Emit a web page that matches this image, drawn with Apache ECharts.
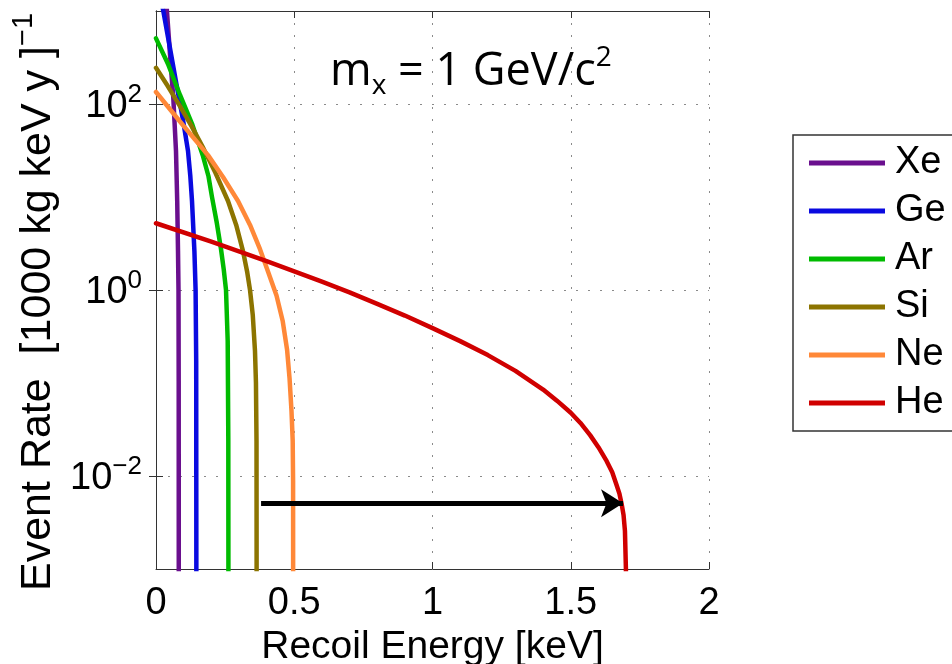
<!DOCTYPE html>
<html><head><meta charset="utf-8">
<script src="https://cdn.jsdelivr.net/npm/echarts@6/dist/echarts.min.js"></script>
<style>html,body{margin:0;padding:0;background:#fff;}#c{width:952px;height:664px;}</style>
</head><body><div id="c"></div>
<script>
// ---- data ----
const elements = ['Xe', 'Ge', 'Ar', 'Si', 'Ne', 'He'];
const colors = ['#6a0f8e', '#0a0ae0', '#00bb00', '#8c7400', '#ff8838', '#d00000'];
// [recoil energy keV, event rate]
const xe = [[0.030, 2500], [0.0398, 975], [0.0542, 244], [0.0626, 116], [0.0723, 31.3], [0.0767, 9.06], [0.0796, 2.62], [0.0814, 1.0], [0.0821, 0.105], [0.0825, 0.0001]];
const ge = [[0, 2500], [0.0271, 975], [0.0738, 164], [0.0984, 65.6], [0.1157, 31.3], [0.1241, 16.8], [0.1302, 9.06], [0.1389, 2.62], [0.1432, 1.0], [0.1454, 0.173], [0.1462, 0.0001]];
const ar = [[0, 508], [0.0434, 269], [0.0868, 125], [0.130, 61.7], [0.170, 27.5], [0.190, 16.6], [0.2025, 10.0], [0.220, 5.25], [0.2351, 2.75], [0.2450, 1.66], [0.2532, 1.0], [0.2593, 0.283], [0.2615, 0.024], [0.2622, 0.0001]];
const si = [[0, 245], [0.043, 155], [0.086, 95.5], [0.129, 57.5], [0.172, 33.1], [0.215, 18.2], [0.2604, 9.06], [0.290, 5.01], [0.3146, 2.62], [0.330, 1.55], [0.340, 1.0], [0.350, 0.537], [0.358, 0.221], [0.3615, 0.1], [0.3635, 0.0238], [0.3642, 0.0001]];
const ne = [[0, 134.6], [0.094, 61], [0.188, 28.2], [0.2423, 16.4], [0.2966, 9.06], [0.340, 5.01], [0.3761, 2.75], [0.405, 1.585], [0.4358, 0.871], [0.458, 0.468], [0.474, 0.229], [0.483, 0.112], [0.490, 0.0501], [0.4944, 0.024], [0.4958, 0.0089], [0.4962, 0.0001]];
const he = [[0, 5.22], [0.2, 3.31], [0.4, 2.04], [0.6, 1.23], [0.7, 0.944], [0.8, 0.708], [0.9, 0.531], [1.0, 0.389], [1.1, 0.282], [1.2, 0.1995], [1.3, 0.135], [1.4, 0.0851], [1.45, 0.0646], [1.5, 0.0479], [1.535, 0.0372], [1.57, 0.0275], [1.60, 0.0204], [1.63, 0.01445], [1.65, 0.01096], [1.666, 0.00794], [1.676, 0.00646], [1.684, 0.00501], [1.691, 0.0038], [1.696, 0.00257], [1.6995, 0.001], [1.700, 0.0001]];
const seriesData = [xe, ge, ar, si, ne, he];
const yTicks = [0.01, 1, 100];
const arrowStart = [0.38, 0.0051];
const arrowEnd = [1.689, 0.0051];

const FONT = 'Liberation Sans';
const gridLine = { show: true, lineStyle: { type: [2, 10], color: '#8a8a8a', width: 1 } };
const axLine = { show: true, lineStyle: { color: '#333', width: 1 } };

function expLabel(v) {
  const e = Math.round(Math.log10(v));
  const s = e < 0 ? '\u2212' + Math.abs(e) : String(e);
  return '{b|10}{s|' + s + '}';
}

const chart = echarts.init(document.getElementById('c'), null, { renderer: 'canvas' });
const series = elements.map((name, i) => {
  const s = {
    name, type: 'line', data: seriesData[i], showSymbol: false, symbol: 'none',
    clip: true, smooth: false, animation: false,
    lineStyle: { color: colors[i], width: 4.5, join: 'round', cap: 'round' }, itemStyle: { color: colors[i] },
    emphasis: { disabled: true }
  };
  if (name === 'He') {
    s.markLine = {
      silent: true, animation: false, symbol: ['none', 'arrow'], symbolSize: [21, 22],
      label: { show: false }, emphasis: { disabled: true },
      lineStyle: { color: '#000', width: 5, type: 'solid' },
      data: [[{ coord: arrowStart }, { coord: arrowEnd }]]
    };
  }
  return s;
});

chart.setOption({
  animation: false,
  backgroundColor: '#fff',
  grid: { left: 156, top: 11, width: 553, height: 558, containLabel: false, outerBoundsMode: 'none' },
  xAxis: [
    { type: 'value', min: 0, max: 2, interval: 0.5, position: 'bottom',
      axisLine: axLine, axisTick: { show: true, inside: true, length: 7, lineStyle: { color: '#333' } },
      axisLabel: { fontSize: 38, color: '#000', margin: 16, fontFamily: FONT },
      splitLine: gridLine,
      name: 'Recoil Energy [keV]', nameLocation: 'middle', nameGap: 49,
      nameTextStyle: { fontSize: 39, color: '#000', fontFamily: FONT } },
    { type: 'value', min: 0, max: 2, interval: 0.5, position: 'top',
      axisLine: axLine, axisTick: { show: true, inside: true, length: 7, lineStyle: { color: '#333' } },
      axisLabel: { show: false }, splitLine: { show: false } }
  ],
  yAxis: [
    { type: 'log', logBase: 10, min: 0.001, max: 1000, position: 'left',
      axisLine: axLine,
      axisTick: { show: true, inside: true, length: 7, customValues: yTicks, lineStyle: { color: '#333' } },
      axisLabel: { customValues: yTicks, formatter: expLabel, margin: 14, color: '#000',
        rich: { b: { fontSize: 38, fontFamily: FONT, lineHeight: 44, verticalAlign: 'bottom', color: '#000' },
                s: { fontSize: 26, fontFamily: FONT, lineHeight: 26, verticalAlign: 'top', color: '#000' } } },
      splitLine: gridLine,
      name: '{n|Event Rate  [1000 kg keV y ]}{s|\u22121}', nameLocation: 'middle', nameGap: 71, nameRotate: 90,
      nameTextStyle: { color: '#000', padding: [0, 24, 0, 0],
        rich: { n: { fontSize: 43, fontFamily: FONT, lineHeight: 50, verticalAlign: 'bottom', color: '#000' },
                s: { fontSize: 29, fontFamily: FONT, lineHeight: 29, verticalAlign: 'top', color: '#000' } } } },
    { type: 'log', logBase: 10, min: 0.001, max: 1000, position: 'right',
      axisLine: axLine,
      axisTick: { show: true, inside: true, length: 7, customValues: yTicks, lineStyle: { color: '#333' } },
      axisLabel: { show: false }, splitLine: { show: false } }
  ],
  legend: {
    data: elements, orient: 'vertical', left: 793, top: 135,
    padding: [8, 90, 8, 16], itemWidth: 76, itemHeight: 5, itemGap: 8, icon: 'rect',
    borderColor: '#333', borderWidth: 1.5, backgroundColor: '#fff',
    textStyle: { fontSize: 38, fontFamily: FONT, color: '#000', lineHeight: 40, padding: [0, 0, 0, 5] },
    selectedMode: false
  },
  graphic: [
    { type: 'text', left: 330, top: 44, z: 100,
      style: { text: '{m|m}{s|x}{m| = 1 GeV/c}{p|2}', fill: '#000',
        rich: { m: { fontSize: 45, fontFamily: 'Open Sans', lineHeight: 56, verticalAlign: 'middle', fill: '#000' },
                s: { fontSize: 28, fontFamily: 'Open Sans', lineHeight: 28, verticalAlign: 'bottom', fill: '#000' },
                p: { fontSize: 28, fontFamily: 'Open Sans', lineHeight: 28, verticalAlign: 'top', fill: '#000' } } } }
  ],
  series
});
</script></body></html>
